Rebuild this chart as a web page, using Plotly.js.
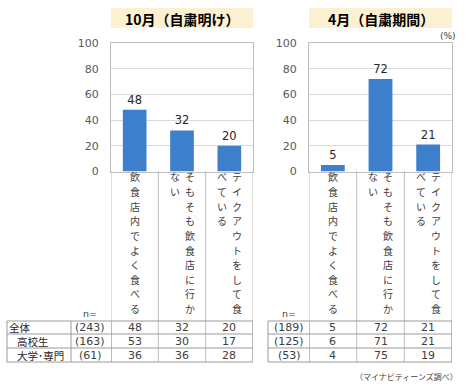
<!DOCTYPE html>
<html>
<head>
<meta charset="utf-8">
<script src="https://cdn.plot.ly/plotly-3.0.1.min.js"></script>
<style>html,body{margin:0;padding:0;background:#fff;}#chart{width:470px;height:387px;}</style>
</head>
<body>
<div id="chart"></div>
<script>
// ---- data ----
const categories = ['飲食店内でよく食べる', 'そもそも飲食店に行かない', 'テイクアウトをして食べている'];
// vertical label columns (right-to-left)
const labelColumns = [['飲食店内でよく食べる'], ['そもそも飲食店に行か', 'ない'], ['テイクアウトをして食', 'べている']];
const panelTitles = ['10月（自粛明け）', '4月（自粛期間）'];
const octValues = [48, 32, 20];
const aprValues = [5, 72, 21];
const rowLabels = ['全体', '高校生', '大学･専門'];
const octN = ['(243)', '(163)', '(61)'];
const aprN = ['(189)', '(125)', '(53)'];
const octTable = [[48, 32, 20], [53, 30, 17], [36, 36, 28]];
const aprTable = [[5, 72, 21], [6, 71, 21], [4, 75, 19]];
const yTicks = [0, 20, 40, 60, 80, 100];

// ---- layout helpers ----
const W = 470, H = 387;
const fx = p => p / W;
const fy = p => 1 - p / H;
const JP = '"Noto Sans CJK JP", sans-serif';
const NUM = '"DejaVu Sans", "Noto Sans CJK JP", sans-serif';
const barColor = '#3E7FCC';
const gridCol = '#D9D9D9';
const borderCol = '#BFBFBF';
const tableCol = '#9A9A9A';
const textCol = '#404040';

const panels = [
  {xa: 'x', ya: 'y', left: 111, right: 253, tleft: 7, values: octValues, n: octN, table: octTable, title: panelTitles[0], nx: 90, showRowLabels: true},
  {xa: 'x2', ya: 'y2', left: 309, right: 452, tleft: 268, values: aprValues, n: aprN, table: aprTable, title: panelTitles[1], nx: 289, showRowLabels: false}
];

const idx = categories.map((c, i) => i);
const traces = panels.map(p => ({
  type: 'bar', x: idx, y: p.values, xaxis: p.xa, yaxis: p.ya,
  width: 0.5, marker: {color: barColor},
  text: p.values.map(String), textposition: 'outside',
  textfont: {family: NUM, size: 11.5, color: '#262626'},
  cliponaxis: false, hoverinfo: 'none'
}));

const shapes = [];
const annotations = [];
const rowY = [327.5, 341, 355];
const tableLines = [321, 334, 348, 362];
const charTop = 177, charStep = 14.6;

panels.forEach((p, k) => {
  // title box
  shapes.push({type: 'rect', xref: 'paper', yref: 'paper', x0: fx(p.left), x1: fx(p.right), y0: fy(28), y1: fy(8),
    fillcolor: '#FCF0D2', line: {width: 0}, layer: 'below'});
  annotations.push({xref: 'paper', yref: 'paper', x: fx((p.left + p.right) / 2), y: fy(18.5), text: '<b>' + p.title + '</b>',
    showarrow: false, font: {family: JP, size: 14, color: '#000'}, xanchor: 'center', yanchor: 'middle'});
  // category separators below the plot
  const xr = p.xa;
  [-0.5, 0.5, 1.5, 2.5].forEach(v => {
    shapes.push({type: 'line', xref: xr, yref: 'paper', x0: v, x1: v, y0: fy(171), y1: fy(362), line: {color: borderCol, width: 1}});
  });
  // table horizontal lines
  tableLines.forEach((ly, j) => {
    shapes.push({type: 'line', xref: 'paper', yref: 'paper', x0: fx(p.tleft), x1: fx(p.right), y0: fy(ly), y1: fy(ly),
      line: {color: tableCol, width: 1}});
  });
  // table outer-left vertical lines
  const vlines = k === 0 ? [p.tleft, 71] : [p.tleft];
  vlines.forEach(vx => {
    shapes.push({type: 'line', xref: 'paper', yref: 'paper', x0: fx(vx), x1: fx(vx), y0: fy(321), y1: fy(362), line: {color: tableCol, width: 1}});
  });
  [-0.5, 2.5].forEach(v => {
    shapes.push({type: 'line', xref: xr, yref: 'paper', x0: v, x1: v, y0: fy(321), y1: fy(362), line: {color: tableCol, width: 1}});
  });
  // vertical category labels, one character at a time
  labelColumns.forEach((cols, i) => {
    cols.forEach((col, c) => {
      const shift = cols.length === 1 ? 0 : (c === 0 ? 7.5 : -7.5);
      col.split('').forEach((ch, j) => {
        annotations.push({xref: xr, yref: 'paper', x: i, xshift: shift, y: fy(charTop + j * charStep), yanchor: 'middle', xanchor: 'center',
          text: ch, showarrow: false, borderpad: 0,
          font: {family: JP, size: 10, color: textCol}});
      });
    });
  });
  // n=
  annotations.push({xref: 'paper', yref: 'paper', x: fx(p.nx), y: fy(313.5), text: 'n=', showarrow: false,
    font: {family: NUM, size: 9.5, color: textCol}, xanchor: 'center', yanchor: 'middle'});
  // table values
  p.table.forEach((row, r) => {
    annotations.push({xref: 'paper', yref: 'paper', x: fx(p.nx), y: fy(rowY[r]), text: p.n[r], showarrow: false,
      font: {family: NUM, size: 11, color: textCol}, xanchor: 'center', yanchor: 'middle', borderpad: 0});
    row.forEach((v, i) => {
      annotations.push({xref: xr, yref: 'paper', x: i, y: fy(rowY[r]), text: String(v), showarrow: false,
        font: {family: NUM, size: 11, color: textCol}, xanchor: 'center', yanchor: 'middle', borderpad: 0});
    });
    if (p.showRowLabels) {
      annotations.push({xref: 'paper', yref: 'paper', x: fx(r === 0 ? 8 : 16), y: fy(rowY[r]), text: rowLabels[r], showarrow: false,
        font: {family: JP, size: 10.5, color: '#262626'}, xanchor: 'left', yanchor: 'middle', borderpad: 0});
    }
  });
});

annotations.push({xref: 'paper', yref: 'paper', x: fx(458), y: fy(36), text: '(%)', showarrow: false,
  font: {family: NUM, size: 9, color: textCol}, xanchor: 'right', yanchor: 'middle'});
annotations.push({xref: 'paper', yref: 'paper', x: fx(460), y: fy(376.5), text: '（マイナビティーンズ調べ）', showarrow: false,
  font: {family: JP, size: 8, color: textCol}, xanchor: 'right', yanchor: 'middle'});

function xAxis(p) {
  return {domain: [fx(p.left), fx(p.right)], range: [-0.5, 2.5], showticklabels: false, ticks: '',
    showline: true, mirror: true, linecolor: borderCol, linewidth: 1, showgrid: false, zeroline: false, fixedrange: true};
}
function yAxis() {
  return {domain: [fy(171.5), fy(43)], range: [0, 100], tickvals: yTicks, ticktext: yTicks.map(String),
    gridcolor: gridCol, gridwidth: 1, showline: true, mirror: true, linecolor: borderCol, linewidth: 1,
    zeroline: false, ticks: '', ticklabelstandoff: 9, tickfont: {family: NUM, size: 11, color: '#595959'}, fixedrange: true};
}

const layout = {
  width: W, height: H, margin: {l: 0, r: 0, t: 0, b: 0},
  paper_bgcolor: '#fff', plot_bgcolor: '#fff', showlegend: false,
  xaxis: Object.assign(xAxis(panels[0]), {anchor: 'y'}),
  yaxis: Object.assign(yAxis(), {anchor: 'x'}),
  xaxis2: Object.assign(xAxis(panels[1]), {anchor: 'y2'}),
  yaxis2: Object.assign(yAxis(), {anchor: 'x2'}),
  shapes: shapes, annotations: annotations,
  font: {family: NUM}
};

Plotly.newPlot('chart', traces, layout, {staticPlot: true, displayModeBar: false});
</script>
</body>
</html>
